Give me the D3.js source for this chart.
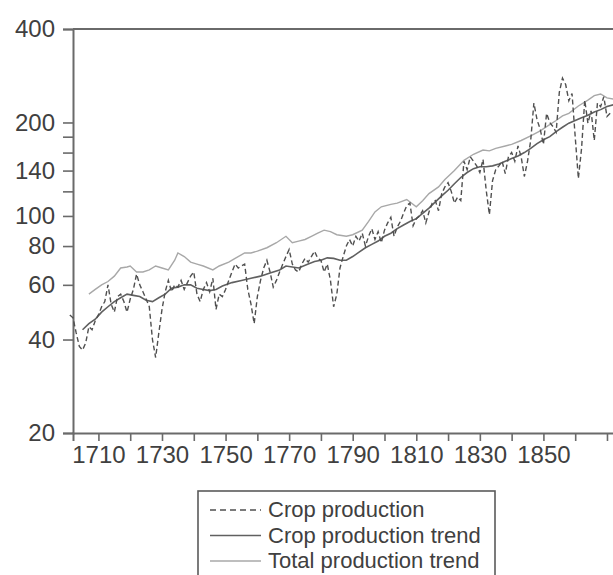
<!DOCTYPE html>
<html>
<head>
<meta charset="utf-8">
<script src="https://cdn.jsdelivr.net/npm/d3@7"></script>
<style>
  body { margin: 0; background: #fff; }
  text { font-family: "Liberation Sans", Arial, sans-serif; fill: #404040; }
</style>
</head>
<body>
<div id="viz"></div>
<script>
// annual crop production, 1701-1871
const cropStart = 1701
const cropValues = [
  48, 47, 42, 38, 37, 39, 44, 43, 46, 48,
  51, 53, 60, 52, 49, 55, 56, 53, 49, 54,
  58, 65, 60, 57, 54, 51, 40, 35, 42, 50,
  57, 62, 57, 60, 59, 62, 58, 61, 64, 66,
  56, 53, 58, 61, 57, 63, 50, 56, 55, 58,
  62, 66, 70, 68, 69, 70, 58, 52, 45, 55,
  62, 68, 72, 66, 59, 62, 66, 70, 74, 78,
  70, 67, 66, 70, 73, 71, 74, 77, 73, 72,
  66, 70, 62, 51, 56, 68, 74, 80, 84, 80,
  86, 83, 88, 80, 86, 91, 84, 89, 82, 90,
  95, 99, 86, 92, 96, 102, 108, 110, 93, 98,
  100, 104, 95, 103, 110, 112, 104, 118, 124, 128,
  120, 110, 115, 112, 150, 141, 155, 150, 145, 138,
  152, 121, 101, 130, 141, 145, 150, 137, 155, 160,
  150, 168, 155, 134, 150, 175, 231, 204, 190, 170,
  214, 200, 194, 186, 250, 278, 265, 235, 248, 180,
  132, 165, 236, 199, 218, 175, 231, 225, 242, 209,
  214
]

const cropTrendYears = [
  1705, 1707, 1709, 1711, 1713, 1715, 1717, 1719, 1721, 1723,
  1725, 1727, 1729, 1731, 1733, 1735, 1737, 1739, 1741, 1743,
  1745, 1747, 1749, 1752, 1755, 1758, 1761, 1764, 1767, 1769,
  1771, 1773, 1776, 1778, 1780, 1782, 1784, 1786, 1788, 1790,
  1792, 1794, 1796, 1798, 1800, 1802, 1804, 1806, 1808, 1810,
  1812, 1814, 1816, 1818, 1820, 1822, 1824, 1826, 1828, 1830,
  1832, 1834, 1836, 1838, 1840, 1842, 1844, 1846, 1848, 1850,
  1852, 1854, 1856, 1858, 1860, 1862, 1864, 1866, 1868, 1870,
  1872
]
const cropTrendValues = [
  43, 45, 46.5, 49, 51, 53, 54.5, 56, 55.5, 55,
  53.5, 53, 54.5, 56, 58.5, 59, 60, 60, 58.5, 58,
  57.5, 58, 59.5, 61, 62, 63, 64, 65.5, 67, 69,
  68.5, 68, 70, 71.3, 72, 73.3, 73, 72, 72, 74,
  76.5, 79, 81, 83, 86, 88, 91, 93.5, 96, 98,
  102, 106, 111, 116, 121, 127, 133, 138, 142, 144,
  144, 145, 147, 150, 153, 156, 160, 165, 171, 176,
  180, 187, 193, 199, 203, 207, 211, 216, 220, 225,
  228
]

const totalTrendYears = [
  1707, 1709, 1711, 1713, 1715, 1717, 1719, 1720, 1722, 1724,
  1726, 1728, 1730, 1732, 1734, 1735, 1737, 1739, 1741, 1743,
  1746, 1748, 1751, 1753, 1756, 1758, 1760, 1763, 1766, 1769,
  1771, 1773, 1775, 1777, 1779, 1781, 1783, 1785, 1788, 1790,
  1793, 1795, 1797, 1799, 1802, 1804, 1807, 1810, 1812, 1814,
  1817, 1819, 1822, 1825, 1828, 1831, 1833, 1835, 1838, 1840,
  1843, 1846, 1849, 1851, 1854, 1856, 1858, 1861, 1864, 1866,
  1868, 1870, 1872
]
const totalTrendValues = [
  56, 58, 60, 61.5, 64, 68, 68.5, 69, 66, 66,
  67, 69, 68, 67, 72, 76, 74, 71, 70, 69,
  67, 69, 71, 73, 76, 76, 77, 79, 82, 86,
  82, 83, 84, 86, 88, 90, 89, 87, 86, 87,
  90, 96, 103, 107, 109, 110, 113, 107, 112, 118,
  124, 131, 140, 151, 158, 163, 162, 165, 168, 170,
  175, 181, 188, 194, 203, 210, 214, 226, 236, 244,
  247, 240, 238
]

const yTicks = [20, 40, 60, 80, 100, 120, 140, 160, 180, 200, 400]
const yLabels = [20, 40, 60, 80, 100, 140, 200, 400]
const xTicks = d3.range(1710, 1871, 10)
const xLabels = [1710, 1730, 1750, 1770, 1790, 1810, 1830, 1850]

const legendItems = ['Crop production', 'Crop production trend', 'Total production trend']

const width = 613
const height = 575
const margin = { left: 73, top: 29 }
const plotBottom = 433

const svg = d3.select('#viz')
  .append('svg')
    .attr('width', width)
    .attr('height', height)

let x = d3.scaleLinear()
  .domain([1702, 1874])
  .range([margin.left, 619.7])

let y = d3.scaleLog()
  .domain([20, 400])
  .range([plotBottom, margin.top])

const axisColor = '#6a6a6a'

// frame top
svg.append('line')
  .attr('x1', margin.left).attr('x2', width)
  .attr('y1', y(400)).attr('y2', y(400))
  .attr('stroke', axisColor).attr('stroke-width', 2)

// y axis
let yAxis = svg.append('g')
  .attr('transform', 'translate(' + margin.left + ',0)')
  .call(d3.axisLeft(y).tickValues(yTicks)
    .tickSize(10).tickPadding(8)
    .tickFormat(d => yLabels.includes(d) ? d : ''))
yAxis.select('.domain').attr('stroke', axisColor).attr('stroke-width', 2)
yAxis.selectAll('.tick line').attr('stroke', axisColor).attr('stroke-width', 1.6)
yAxis.selectAll('.tick text')
  .attr('font-size', 24)
  .attr('fill', '#404040')
  .style('font-family', '"Liberation Sans", Arial, sans-serif')

// x axis
let xAxis = svg.append('g')
  .attr('transform', 'translate(0,' + plotBottom + ')')
  .call(d3.axisBottom(x).tickValues(xTicks)
    .tickSize(8).tickPadding(5)
    .tickFormat(d => xLabels.includes(d) ? d : ''))
xAxis.select('.domain').attr('stroke', axisColor).attr('stroke-width', 2)
xAxis.selectAll('.tick line').attr('stroke', axisColor).attr('stroke-width', 1.6)
xAxis.selectAll('.tick text')
  .attr('font-size', 24)
  .attr('fill', '#404040')
  .style('font-family', '"Liberation Sans", Arial, sans-serif')

// series
let cropData = cropValues.map((v, i) => [cropStart + i, v])
let cropTrend = cropTrendYears.map((yr, i) => [yr, cropTrendValues[i]])
let totalTrend = totalTrendYears.map((yr, i) => [yr, totalTrendValues[i]])

let line = d3.line()
  .x(d => x(d[0]))
  .y(d => y(d[1]))

svg.append('path')
  .datum(totalTrend)
  .attr('d', line)
  .attr('fill', 'none')
  .attr('stroke', '#a8a8a8')
  .attr('stroke-width', 1.4)

svg.append('path')
  .datum(cropTrend)
  .attr('d', line)
  .attr('fill', 'none')
  .attr('stroke', '#606060')
  .attr('stroke-width', 1.6)

svg.append('path')
  .datum(cropData)
  .attr('d', line)
  .attr('fill', 'none')
  .attr('stroke', '#505050')
  .attr('stroke-width', 1.4)
  .attr('stroke-dasharray', '5,3')

// legend
const styles = [
  { stroke: '#505050', width: 1.4, dash: '6,4' },
  { stroke: '#606060', width: 1.6, dash: null },
  { stroke: '#a8a8a8', width: 1.4, dash: null }
]

let legend = svg.append('g')
  .attr('transform', 'translate(198,491)')

legend.append('rect')
  .attr('width', 297)
  .attr('height', 100)
  .attr('fill', '#fff')
  .attr('stroke', '#5a5a5a')
  .attr('stroke-width', 1.6)

legendItems.forEach((label, i) => {
  let row = legend.append('g')
    .attr('transform', 'translate(0,' + (26 + i * 25.5) + ')')
  row.append('line')
    .attr('x1', 12).attr('x2', 63)
    .attr('y1', -7).attr('y2', -7)
    .attr('stroke', styles[i].stroke)
    .attr('stroke-width', styles[i].width)
    .attr('stroke-dasharray', styles[i].dash)
  row.append('text')
    .attr('x', 70)
    .attr('font-size', 22)
    .text(label)
})
</script>
</body>
</html>
